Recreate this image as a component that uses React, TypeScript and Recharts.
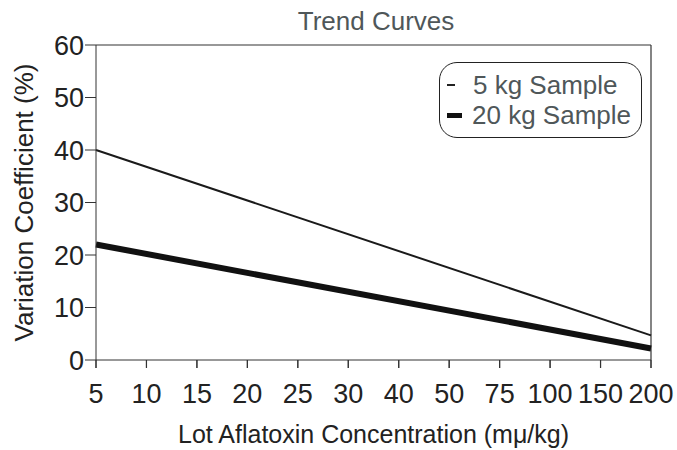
import React from "react";
import {
  LineChart,
  Line,
  XAxis,
  YAxis,
  ReferenceLine,
  Label,
} from "recharts";

const categories = ["5", "10", "15", "20", "25", "30", "40", "50", "75", "100", "150", "200"];
// only the end points are known; the trend is a straight line between them
const sample5kg = [40, null, null, null, null, null, null, null, null, null, null, 4.7];
const sample20kg = [22, null, null, null, null, null, null, null, null, null, null, 2.2];
const yTicks = [0, 10, 20, 30, 40, 50, 60];

const data = categories.map((c, i) => ({
  conc: c,
  s5: sample5kg[i],
  s20: sample20kg[i],
}));

const FONT = "'Liberation Sans', Arial, sans-serif";
const GREY_TEXT = "#4f5759";
// tick mark length below the x axis, in y units (8px at 5.25px per unit)
const TICK_DEPTH = 1.5;

function TrendLegend() {
  return (
    <div
      style={{
        position: "absolute",
        left: 439,
        top: 62,
        width: 203,
        height: 76,
        border: "1.5px solid #222",
        borderRadius: 18,
        fontFamily: FONT,
        fontSize: 26,
        color: GREY_TEXT,
        boxSizing: "border-box",
        padding: "7px 0 0 7px",
        lineHeight: "30px",
        background: "#fff",
      }}
    >
      <div style={{ display: "flex", alignItems: "center" }}>
        <span style={{ display: "inline-block", width: 8, height: 1.5, background: "#222", marginRight: 18 }} />
        5 kg Sample
      </div>
      <div style={{ display: "flex", alignItems: "center" }}>
        <span style={{ display: "inline-block", width: 15, height: 5, background: "#111", marginRight: 10 }} />
        20 kg Sample
      </div>
    </div>
  );
}

export default function App() {
  return (
    <div style={{ position: "absolute", left: 0, top: 0, width: 677, height: 450, background: "#fff" }}>
      <div
        style={{
          position: "absolute",
          left: 0,
          top: 6,
          width: 752,
          textAlign: "center",
          fontFamily: FONT,
          fontSize: 26,
          color: GREY_TEXT,
        }}
      >
        Trend Curves
      </div>
      <LineChart
        width={677}
        height={450}
        data={data}
        margin={{ top: 45, right: 26, left: 0, bottom: 0 }}
        style={{ fontFamily: FONT }}
      >
        <XAxis
          dataKey="conc"
          height={90}
          tickSize={8}
          interval={0}
          stroke="#333"
          tick={{ fill: "#222", fontSize: 27 }}
          tickMargin={16}
        >
          <Label
            value="Lot Aflatoxin Concentration (mμ/kg)"
            position="insideBottom"
            offset={7}
            style={{ fill: "#222", fontSize: 25 }}
          />
        </XAxis>
        <YAxis
          type="number"
          domain={[0, 60]}
          ticks={yTicks}
          width={96}
          tickSize={11}
          stroke="#333"
          tick={{ fill: "#222", fontSize: 27 }}
          tickMargin={1}
          allowDataOverflow
        >
          <Label
            value="Variation Coefficient (%)"
            angle={-90}
            position="insideLeft"
            offset={24}
            style={{ fill: "#222", fontSize: 26, textAnchor: "middle" }}
          />
        </YAxis>
        <ReferenceLine y={60} stroke="#333" strokeWidth={1.2} />
        <ReferenceLine x="200" stroke="#333" strokeWidth={1.2} />
        {categories.map((c) => (
          <ReferenceLine
            key={c}
            segment={[
              { x: c, y: 0 },
              { x: c, y: -TICK_DEPTH },
            ]}
            stroke="#333"
            strokeWidth={1.2}
            ifOverflow="visible"
          />
        ))}
        <Line
          dataKey="s5"
          stroke="#1a1a1a"
          strokeWidth={2}
          dot={false}
          connectNulls
          isAnimationActive={false}
        />
        <Line
          dataKey="s20"
          stroke="#111"
          strokeWidth={6}
          dot={false}
          connectNulls
          isAnimationActive={false}
        />
      </LineChart>
      <TrendLegend />
    </div>
  );
}
